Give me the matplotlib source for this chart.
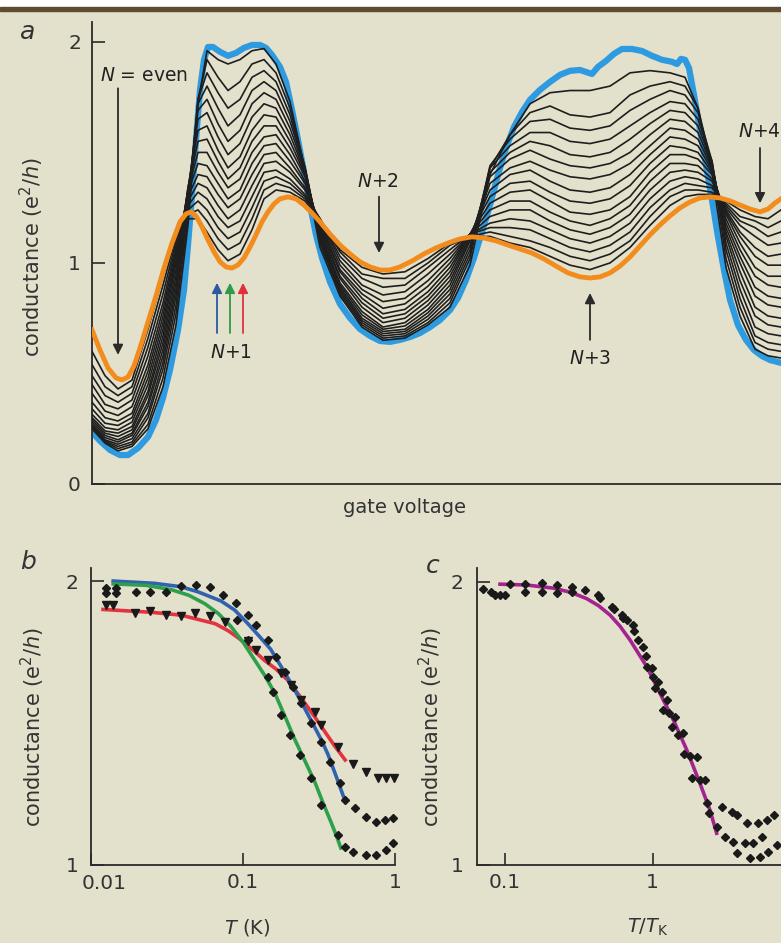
import numpy as np
import matplotlib
matplotlib.use("Agg")
import matplotlib.pyplot as plt
from matplotlib.patches import Rectangle
from matplotlib.ticker import NullLocator

# ---------------- panel a: conductance vs gate voltage (arb. units) ----------------
blue_gate = [0, 8, 18, 28, 36, 46, 56, 64, 71, 78, 86, 92, 96, 100, 104, 108, 112, 116, 121, 128,
             136, 144, 152, 160, 168, 174, 180, 188, 194, 200, 206, 212, 218, 224, 230, 238, 248, 258, 268, 278,
             288, 298, 308, 318, 328, 338, 348, 358, 366, 374, 382, 390, 398, 406, 414, 422, 430, 438, 448, 458,
             468, 478, 488, 494, 500, 506, 514, 522, 530, 540, 550, 560, 570, 580, 585, 589, 593, 597, 602, 608,
             614, 620, 626, 632, 638, 646, 654, 662, 670, 678, 689]
blue_G = [0.235, 0.195, 0.154, 0.131, 0.131, 0.163, 0.213, 0.29, 0.39, 0.516,
          0.697, 0.878, 1.081, 1.308, 1.557, 1.783, 1.919, 1.977, 1.977, 1.955,
          1.937, 1.950, 1.973, 1.986, 1.986, 1.973, 1.941, 1.887, 1.819, 1.692,
          1.557, 1.412, 1.262, 1.127, 1.023, 0.914, 0.814, 0.751, 0.701, 0.670,
          0.647, 0.643, 0.652, 0.665, 0.683, 0.710, 0.742, 0.787, 0.842, 0.923,
          1.023, 1.140, 1.262, 1.398, 1.520, 1.615, 1.683, 1.738, 1.783, 1.819,
          1.851, 1.869, 1.873, 1.864, 1.855, 1.887, 1.914, 1.946, 1.968, 1.968,
          1.959, 1.937, 1.919, 1.910, 1.900, 1.923, 1.919, 1.882, 1.760, 1.602,
          1.443, 1.285, 1.118, 0.968, 0.833, 0.719, 0.652, 0.606, 0.579, 0.561, 0.548]

orange_gate = [0, 8, 16, 24, 30, 36, 42, 48, 56, 64, 72, 80, 88, 94, 99, 104, 110, 116, 122, 128,
               134, 140, 146, 152, 158, 164, 170, 176, 182, 188, 196, 204, 212, 220, 228, 238, 248, 258, 268, 278,
               288, 298, 308, 320, 332, 344, 356, 368, 380, 392, 404, 416, 428, 440, 452, 464, 476, 488, 498, 508,
               518, 528, 538, 548, 558, 568, 578, 588, 598, 608, 618, 628, 638, 648, 658, 668, 676, 683, 689]
orange_G = [0.697, 0.606, 0.525, 0.480, 0.471, 0.484, 0.534, 0.615, 0.733, 0.851,
            0.977, 1.090, 1.186, 1.222, 1.231, 1.213, 1.163, 1.104, 1.050, 1.005,
            0.982, 0.977, 0.991, 1.023, 1.072, 1.127, 1.186, 1.231, 1.267, 1.290,
            1.299, 1.290, 1.262, 1.226, 1.186, 1.131, 1.081, 1.041, 1.005, 0.982,
            0.968, 0.968, 0.982, 1.009, 1.041, 1.068, 1.090, 1.109, 1.118, 1.113,
            1.100, 1.081, 1.063, 1.045, 1.018, 0.986, 0.955, 0.937, 0.932, 0.937,
            0.955, 0.986, 1.027, 1.077, 1.127, 1.172, 1.213, 1.249, 1.276, 1.294,
            1.299, 1.294, 1.281, 1.262, 1.244, 1.231, 1.244, 1.271, 1.290]

# intermediate temperatures: one row per gate position, coldest curve first
black_gate = [0, 13, 26, 40, 56, 71, 84, 96, 106, 115, 126, 136, 148, 160, 172, 184, 198, 213, 228, 248,
              270, 291, 313, 336, 358, 378, 398, 418, 438, 458, 478, 498, 518, 538, 558, 578, 593, 606, 620, 634,
              648, 663, 676, 689]
black_rows = [
    [0.25, 0.255, 0.26, 0.265, 0.27, 0.28, 0.29, 0.30, 0.315, 0.34, 0.37, 0.41, 0.45, 0.49, 0.54, 0.60],
    [0.185, 0.19, 0.195, 0.20, 0.21, 0.22, 0.23, 0.24, 0.255, 0.275, 0.30, 0.33, 0.36, 0.40, 0.44, 0.49],
    [0.15, 0.16, 0.17, 0.18, 0.19, 0.20, 0.215, 0.23, 0.245, 0.265, 0.285, 0.31, 0.34, 0.37, 0.40, 0.43],
    [0.17, 0.18, 0.19, 0.205, 0.22, 0.23, 0.245, 0.26, 0.28, 0.30, 0.32, 0.35, 0.38, 0.41, 0.44, 0.47],
    [0.25, 0.27, 0.30, 0.32, 0.35, 0.37, 0.40, 0.42, 0.45, 0.48, 0.51, 0.54, 0.58, 0.62, 0.66, 0.70],
    [0.44, 0.48, 0.52, 0.55, 0.58, 0.61, 0.64, 0.67, 0.70, 0.73, 0.76, 0.79, 0.82, 0.86, 0.90, 0.94],
    [0.72, 0.77, 0.81, 0.85, 0.88, 0.91, 0.94, 0.97, 1.00, 1.02, 1.04, 1.06, 1.08, 1.10, 1.12, 1.14],
    [1.17, 1.21, 1.25, 1.28, 1.31, 1.33, 1.34, 1.34, 1.33, 1.32, 1.30, 1.28, 1.26, 1.24, 1.22, 1.20],
    [1.72, 1.74, 1.74, 1.72, 1.69, 1.65, 1.60, 1.55, 1.50, 1.45, 1.40, 1.36, 1.32, 1.28, 1.24, 1.20],
    [1.96, 1.92, 1.86, 1.80, 1.74, 1.68, 1.62, 1.56, 1.50, 1.44, 1.39, 1.34, 1.29, 1.24, 1.19, 1.14],
    [1.92, 1.84, 1.77, 1.70, 1.63, 1.57, 1.51, 1.46, 1.41, 1.36, 1.31, 1.26, 1.21, 1.16, 1.11, 1.06],
    [1.90, 1.78, 1.70, 1.62, 1.55, 1.49, 1.43, 1.38, 1.34, 1.29, 1.25, 1.20, 1.16, 1.11, 1.06, 1.01],
    [1.92, 1.82, 1.74, 1.67, 1.60, 1.54, 1.48, 1.43, 1.38, 1.33, 1.29, 1.24, 1.19, 1.14, 1.09, 1.04],
    [1.96, 1.90, 1.84, 1.78, 1.72, 1.66, 1.60, 1.55, 1.50, 1.45, 1.40, 1.35, 1.30, 1.25, 1.20, 1.15],
    [1.97, 1.92, 1.87, 1.82, 1.77, 1.72, 1.67, 1.62, 1.57, 1.53, 1.49, 1.45, 1.41, 1.37, 1.33, 1.29],
    [1.90, 1.86, 1.82, 1.78, 1.74, 1.70, 1.66, 1.62, 1.58, 1.54, 1.50, 1.46, 1.42, 1.39, 1.36, 1.33],
    [1.73, 1.70, 1.67, 1.64, 1.61, 1.58, 1.55, 1.52, 1.49, 1.46, 1.43, 1.41, 1.38, 1.36, 1.34, 1.32],
    [1.42, 1.43, 1.43, 1.43, 1.42, 1.41, 1.40, 1.39, 1.37, 1.36, 1.34, 1.33, 1.31, 1.30, 1.29, 1.28],
    [1.07, 1.09, 1.10, 1.11, 1.12, 1.13, 1.14, 1.15, 1.16, 1.17, 1.18, 1.19, 1.20, 1.20, 1.20, 1.19],
    [0.85, 0.86, 0.87, 0.88, 0.89, 0.90, 0.91, 0.93, 0.94, 0.96, 0.97, 0.99, 1.01, 1.03, 1.05, 1.06],
    [0.71, 0.72, 0.73, 0.74, 0.75, 0.765, 0.78, 0.80, 0.82, 0.84, 0.86, 0.88, 0.90, 0.93, 0.95, 0.98],
    [0.65, 0.66, 0.67, 0.68, 0.69, 0.70, 0.71, 0.73, 0.75, 0.77, 0.795, 0.825, 0.855, 0.89, 0.93, 0.95],
    [0.66, 0.67, 0.68, 0.69, 0.70, 0.715, 0.73, 0.75, 0.77, 0.79, 0.815, 0.84, 0.87, 0.90, 0.93, 0.96],
    [0.72, 0.73, 0.745, 0.76, 0.775, 0.79, 0.81, 0.83, 0.85, 0.87, 0.895, 0.92, 0.95, 0.98, 1.00, 1.02],
    [0.80, 0.82, 0.84, 0.86, 0.88, 0.90, 0.92, 0.94, 0.96, 0.98, 1.00, 1.02, 1.04, 1.06, 1.08, 1.09],
    [0.99, 1.02, 1.04, 1.06, 1.08, 1.10, 1.11, 1.12, 1.13, 1.13, 1.13, 1.13, 1.13, 1.13, 1.12, 1.12],
    [1.40, 1.43, 1.44, 1.43, 1.41, 1.39, 1.36, 1.33, 1.30, 1.27, 1.24, 1.21, 1.18, 1.16, 1.14, 1.12],
    [1.58, 1.58, 1.56, 1.53, 1.50, 1.47, 1.43, 1.40, 1.36, 1.32, 1.28, 1.24, 1.20, 1.16, 1.12, 1.09],
    [1.72, 1.68, 1.64, 1.59, 1.55, 1.51, 1.46, 1.42, 1.37, 1.33, 1.28, 1.24, 1.19, 1.15, 1.10, 1.07],
    [1.77, 1.71, 1.65, 1.59, 1.53, 1.47, 1.42, 1.37, 1.32, 1.28, 1.23, 1.19, 1.15, 1.11, 1.07, 1.03],
    [1.78, 1.67, 1.61, 1.55, 1.49, 1.44, 1.39, 1.33, 1.28, 1.23, 1.19, 1.15, 1.11, 1.07, 1.03, 0.99],
    [1.78, 1.66, 1.60, 1.54, 1.48, 1.43, 1.38, 1.32, 1.27, 1.22, 1.17, 1.13, 1.09, 1.05, 1.01, 0.97],
    [1.80, 1.68, 1.62, 1.56, 1.50, 1.45, 1.40, 1.34, 1.29, 1.24, 1.20, 1.16, 1.12, 1.08, 1.04, 1.00],
    [1.86, 1.76, 1.69, 1.62, 1.56, 1.50, 1.45, 1.40, 1.35, 1.30, 1.26, 1.22, 1.18, 1.14, 1.10, 1.07],
    [1.87, 1.80, 1.74, 1.68, 1.63, 1.58, 1.53, 1.49, 1.45, 1.41, 1.37, 1.33, 1.29, 1.25, 1.21, 1.17],
    [1.86, 1.82, 1.78, 1.73, 1.69, 1.65, 1.61, 1.57, 1.53, 1.49, 1.45, 1.41, 1.37, 1.33, 1.30, 1.26],
    [1.84, 1.80, 1.76, 1.72, 1.68, 1.64, 1.60, 1.56, 1.52, 1.49, 1.45, 1.42, 1.39, 1.36, 1.33, 1.30],
    [1.70, 1.70, 1.68, 1.65, 1.62, 1.59, 1.56, 1.53, 1.50, 1.47, 1.44, 1.41, 1.38, 1.35, 1.33, 1.31],
    [1.40, 1.44, 1.46, 1.46, 1.45, 1.44, 1.43, 1.42, 1.41, 1.40, 1.38, 1.37, 1.35, 1.34, 1.32, 1.31],
    [0.98, 1.02, 1.06, 1.09, 1.12, 1.14, 1.16, 1.18, 1.20, 1.22, 1.23, 1.24, 1.25, 1.26, 1.27, 1.28],
    [0.76, 0.80, 0.84, 0.88, 0.92, 0.96, 1.00, 1.03, 1.06, 1.09, 1.12, 1.14, 1.17, 1.19, 1.21, 1.24],
    [0.61, 0.64, 0.67, 0.71, 0.76, 0.80, 0.85, 0.89, 0.94, 0.98, 1.03, 1.07, 1.12, 1.16, 1.19, 1.21],
    [0.58, 0.61, 0.64, 0.68, 0.72, 0.76, 0.81, 0.85, 0.90, 0.94, 0.99, 1.03, 1.08, 1.12, 1.16, 1.20],
    [0.57, 0.60, 0.63, 0.67, 0.71, 0.75, 0.80, 0.84, 0.89, 0.94, 0.99, 1.04, 1.09, 1.14, 1.19, 1.24],
]

# ---------------- panel b: conductance vs T (K) ----------------
fit_blue_T = [0.0140, 0.0262, 0.0391, 0.0506, 0.0716, 0.0881, 0.1077, 0.1287, 0.152, 0.1787,
              0.207, 0.242, 0.280, 0.328, 0.362, 0.411, 0.467]
fit_blue_G = [2.000, 1.992, 1.980, 1.962, 1.930, 1.898, 1.850, 1.804, 1.760, 1.698,
              1.640, 1.574, 1.510, 1.440, 1.390, 1.311, 1.229]
fit_green_T = [0.0140, 0.0230, 0.0336, 0.0440, 0.0562, 0.0690, 0.0833, 0.100, 0.120, 0.140,
               0.162, 0.190, 0.220, 0.258, 0.298, 0.340, 0.380, 0.415, 0.440]
fit_green_G = [1.990, 1.985, 1.970, 1.950, 1.920, 1.885, 1.840, 1.785, 1.720, 1.665,
               1.605, 1.520, 1.440, 1.362, 1.290, 1.212, 1.150, 1.098, 1.060]
fit_red_T = [0.0120, 0.0250, 0.0391, 0.0655, 0.0800, 0.093, 0.112, 0.139, 0.165, 0.198,
             0.240, 0.298, 0.345, 0.400, 0.470]
fit_red_G = [1.900, 1.890, 1.880, 1.850, 1.825, 1.800, 1.765, 1.720, 1.690, 1.650,
             1.590, 1.520, 1.470, 1.420, 1.370]

dia1_T = [0.0126, 0.0145, 0.0393, 0.0493, 0.0604, 0.0739, 0.0904, 0.108, 0.122, 0.146, 0.166, 0.188,
          0.213, 0.242, 0.282, 0.328, 0.372, 0.433, 0.467, 0.543, 0.648, 0.754, 0.855, 0.970]
dia1_G = [1.974, 1.974, 1.982, 1.986, 1.978, 1.951, 1.924, 1.880, 1.845, 1.792, 1.734, 1.681,
          1.628, 1.569, 1.499, 1.434, 1.364, 1.290, 1.229, 1.200, 1.170, 1.153, 1.158, 1.164]
dia2_T = [0.0126, 0.0145, 0.0199, 0.0243, 0.0313, 0.092, 0.108, 0.146, 0.158, 0.179, 0.203, 0.236,
          0.282, 0.328, 0.422, 0.467, 0.529, 0.648, 0.754, 0.877, 0.970]
dia2_G = [1.957, 1.957, 1.962, 1.962, 1.962, 1.863, 1.792, 1.663, 1.610, 1.528, 1.458, 1.387,
          1.305, 1.211, 1.106, 1.065, 1.047, 1.035, 1.035, 1.053, 1.076]
tri_T = [0.0126, 0.0140, 0.0194, 0.0243, 0.0313, 0.0393, 0.0486, 0.0604, 0.0758, 0.108, 0.122, 0.146,
         0.179, 0.208, 0.242, 0.296, 0.328, 0.422, 0.529, 0.648, 0.773, 0.877, 0.985]
tri_G = [1.915, 1.915, 1.886, 1.895, 1.880, 1.877, 1.886, 1.877, 1.857, 1.790, 1.757, 1.722,
         1.675, 1.634, 1.581, 1.540, 1.493, 1.417, 1.356, 1.329, 1.305, 1.305, 1.305]

# ---------------- panel c: conductance vs T/TK ----------------
fit_c_T = [0.0925, 0.140, 0.2124, 0.280, 0.357, 0.430, 0.514, 0.600, 0.702, 0.911,
           1.12, 1.38, 1.70, 2.09, 2.44, 2.71]
fit_c_G = [1.991, 1.988, 1.977, 1.962, 1.940, 1.915, 1.882, 1.843, 1.794, 1.700,
           1.606, 1.512, 1.406, 1.288, 1.194, 1.112]
scaled_T = [0.0706, 0.0800, 0.0856, 0.0925, 0.100, 0.1081, 0.1366, 0.1366, 0.1771, 0.1771,
            0.2261, 0.2261, 0.2828, 0.2828, 0.348, 0.4283, 0.4397, 0.5274, 0.547, 0.6165,
            0.6327, 0.6664, 0.7316, 0.7469, 0.7991, 0.8642, 0.9009, 0.9103, 0.984, 1.010,
            1.042, 1.092, 1.150, 1.180, 1.243, 1.296, 1.344, 1.416, 1.492, 1.612,
            1.629, 1.788, 1.985, 1.835, 2.091, 2.260, 2.344, 2.418, 2.711,
            2.931, 3.424, 3.703, 4.327, 5.190, 5.909, 6.626,
            3.087, 3.514, 4.216, 4.801, 5.467, 6.907,
            3.703, 4.558, 5.327, 6.065]
scaled_G = [1.973, 1.965, 1.953, 1.953, 1.953, 1.991, 1.991, 1.965, 1.994, 1.965,
            1.988, 1.959, 1.982, 1.965, 1.971, 1.953, 1.941, 1.912, 1.902, 1.882,
            1.871, 1.865, 1.847, 1.824, 1.794, 1.771, 1.738, 1.700, 1.694, 1.665,
            1.624, 1.647, 1.612, 1.547, 1.582, 1.535, 1.488, 1.524, 1.459, 1.465,
            1.392, 1.385, 1.382, 1.306, 1.300, 1.300, 1.218, 1.182, 1.135,
            1.206, 1.188, 1.176, 1.147, 1.147, 1.159, 1.176,
            1.100, 1.082, 1.076, 1.076, 1.100, 1.071,
            1.041, 1.024, 1.029, 1.047]

BG = "#e3e0cc"
INK = "#2a2a2a"
W, H = 781, 943

plt.rcParams["font.family"] = "DejaVu Sans"
plt.rcParams["mathtext.fontset"] = "dejavusans"

fig = plt.figure(figsize=(W / 100, H / 100), dpi=100)
fig.patch.set_facecolor(BG)
fig.patches.append(Rectangle((0, 1 - 7 / H), 1, 7 / H, transform=fig.transFigure,
                             color="white", zorder=0))
fig.patches.append(Rectangle((0, 1 - 11 / H), 1, 4 / H, transform=fig.transFigure,
                             color="#5e4b31", zorder=0))


def style_axes(ax, pad_y=8):
    ax.set_facecolor("none")
    for side in ("top", "right"):
        ax.spines[side].set_visible(False)
    for side in ("left", "bottom"):
        ax.spines[side].set_color(INK)
        ax.spines[side].set_linewidth(1.3)
    ax.tick_params(direction="in", length=9, width=1.2, color=INK,
                   labelcolor="#333333", labelsize=14.5)
    ax.tick_params(axis="y", pad=pad_y)
    ax.tick_params(axis="x", pad=6)


def arrow(ax, tail, tip, color=INK):
    ax.annotate("", xy=tip, xytext=tail,
                arrowprops=dict(arrowstyle="-|>", color=color, lw=1.3,
                                mutation_scale=15, shrinkA=0, shrinkB=0))


# ---- panel a ----
axa = fig.add_axes([92 / W, 1 - 484 / H, 689 / W, 462 / H])
style_axes(axa)
axa.set_xlim(0, 689)
axa.set_ylim(0, 2.09)
axa.set_xticks([])
axa.set_yticks([0, 1, 2])

axa.plot(blue_gate, blue_G, color="#2e9be0", lw=4.5, solid_joinstyle="round", zorder=2)
black = np.array(black_rows)
for k in range(black.shape[1]):
    axa.plot(black_gate, black[:, k], color="#1e1e1e", lw=1.2, zorder=3)
axa.plot(orange_gate, orange_G, color="#f28c1c", lw=3.5, solid_joinstyle="round", zorder=4)

axa.set_ylabel(r"conductance (e$^2$/$h$)", fontsize=15, color="#333333")
axa.yaxis.set_label_coords(-0.067, 0.492)
axa.text(0.453, -0.05, "gate voltage", transform=axa.transAxes, ha="center", va="center",
         fontsize=14, color="#333333")

arrow(axa, (26, 1.79), (26, 0.584))
axa.text(52, 1.85, r"$N$ = even", ha="center", va="center", fontsize=13.5, color="#222222")
for g, c in zip([125, 138, 151], ["#2c5aa0", "#2e9a4a", "#e0303c"]):
    arrow(axa, (g, 0.683), (g, 0.91), color=c)
axa.text(139, 0.593, r"$N$+1", ha="center", va="center", fontsize=13.5, color="#222222")
arrow(axa, (287, 1.30), (287, 1.045))
axa.text(286, 1.367, r"$N$+2", ha="center", va="center", fontsize=13.5, color="#222222")
arrow(axa, (498, 0.652), (498, 0.864))
axa.text(498, 0.570, r"$N$+3", ha="center", va="center", fontsize=13.5, color="#222222")
arrow(axa, (668, 1.52), (668, 1.27))
axa.text(689, 1.593, r"$N$+4", ha="right", va="center", fontsize=13.5, color="#222222")

# ---- panel b ----
axb = fig.add_axes([91 / W, 1 - 865 / H, 304 / W, 297 / H])
style_axes(axb, pad_y=9)
axb.set_xscale("log")
axb.set_xlim(0.01, 1)
axb.set_ylim(1, 2.046)
axb.set_xticks([0.01, 0.1, 1])
# the 0.01 label sits a little right of the spine, clear of the "1" on the y axis
axb.set_xticklabels(["", "0.1", "1"])
axb.text(0.043, -0.03, "0.01", transform=axb.transAxes, ha="center", va="top",
         fontsize=14.5, color="#333333")
axb.xaxis.set_minor_locator(NullLocator())
axb.set_yticks([1, 2])

axb.plot(fit_red_T, fit_red_G, color="#e2333f", lw=2.6, zorder=2)
axb.plot(fit_blue_T, fit_blue_G, color="#2f63b0", lw=2.6, zorder=2)
axb.plot(fit_green_T, fit_green_G, color="#2ea04c", lw=2.6, zorder=2)
axb.plot(tri_T, tri_G, "v", color="#1a1a1a", ms=5.5, zorder=3, clip_on=False)
axb.plot(dia1_T, dia1_G, "D", color="#1a1a1a", ms=3.6, zorder=3, clip_on=False)
axb.plot(dia2_T, dia2_G, "D", color="#1a1a1a", ms=3.6, zorder=3, clip_on=False)

axb.set_ylabel(r"conductance (e$^2$/$h$)", fontsize=15, color="#333333")
axb.yaxis.set_label_coords(-0.145, 0.465)
axb.text(0.513, -0.209, r"$T$ (K)", transform=axb.transAxes, ha="center", va="center",
         fontsize=14, color="#333333")

# ---- panel c ----
axc = fig.add_axes([477.3 / W, 1 - 865 / H, 303.7 / W, 296.7 / H])
style_axes(axc, pad_y=10)
axc.set_xscale("log")
axc.set_xlim(0.0649, 7.39)
axc.set_ylim(1, 2.047)
axc.set_xticks([0.1, 1])
axc.set_xticklabels(["0.1", "1"])
axc.xaxis.set_minor_locator(NullLocator())
axc.set_yticks([1, 2])

axc.plot(fit_c_T, fit_c_G, color="#a3248f", lw=2.6, zorder=2)
axc.plot(scaled_T, scaled_G, "D", color="#1a1a1a", ms=3.6, zorder=3)

axc.set_ylabel(r"conductance (e$^2$/$h$)", fontsize=15, color="#333333")
axc.yaxis.set_label_coords(-0.106, 0.465)
axc.text(0.562, -0.209, r"$T/T_\mathrm{K}$", transform=axc.transAxes, ha="center", va="center",
         fontsize=14, color="#333333")

# panel letters
for (px, py), letter in zip([(28, 32), (28, 562), (433, 566)], ["a", "b", "c"]):
    fig.text(px / W, 1 - py / H, letter, style="italic", fontsize=18, ha="center", va="center",
             color="#333333")

fig.savefig("out.png", dpi=100, facecolor=BG)
